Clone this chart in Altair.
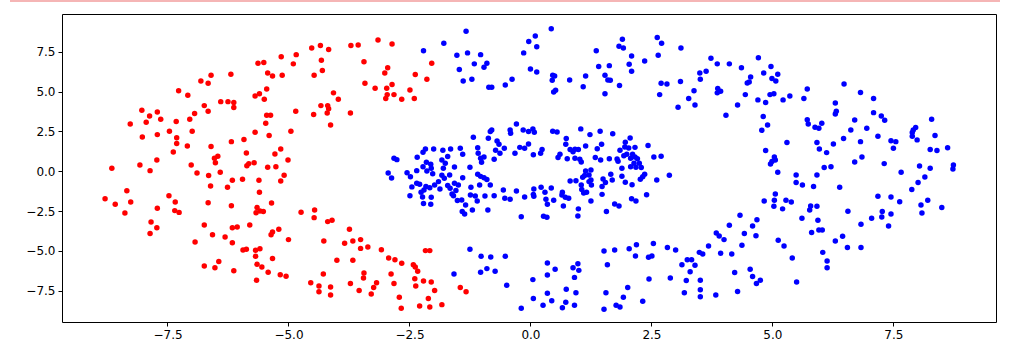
import altair as alt
import pandas as pd

# ---- red points (outer ring, left part) ----
red_x = [
    -8.03, -7.87, -7.71, -7.27, -7.08, -6.94, -6.81, -6.66, -6.60, -6.74, -6.66, -6.40, -6.25, -6.13, -6.13, -6.19,
    -5.69, -5.60, -5.45, -5.50, -5.63, -5.51, -5.43, -5.33, -5.15, -5.13, -4.90, -4.84, -5.45, -5.37, -4.85,
    -4.52, -4.34, -4.17, -4.32, -4.30, -4.47, -3.71, -3.56, -3.15, -2.86, -3.44, -2.95, -3.01, -3.42, -3.21, -2.97,
    -2.86, -2.82, -2.96, -2.99, -2.66, -2.49, -2.40, -2.38, -2.14, -2.04, -4.07, -3.97, -4.33, -4.19, -4.17, -4.20,
    -4.48, -3.72,
    -8.27, -7.94, -7.64, -7.32, -7.04, -5.47, -5.69, -5.40, -4.95, -8.02, -7.71, -7.46, -7.31, -7.31, -6.99, -7.09,
    -7.38, -6.60, -6.18, -5.92, -5.87, -6.53, -6.46, -6.51, -7.01, -6.89, -6.65, -6.41, -6.61, -6.26, -6.16, -5.95,
    -5.86, -5.82, -5.71, -5.61, -5.60, -5.43, -5.26, -5.28, -5.16, -5.01, -5.09, -5.16, -7.72, -8.07, -7.86, -8.65,
    -8.34, -8.26, -8.79, -8.58, -8.38, -7.47, -7.34, -7.71, -7.35, -7.26, -6.66, -6.18, -5.65, -5.67, -5.59, -5.52,
    -5.35,
    -4.13, -4.74, -4.46, -4.47,
    -7.84, -7.72, -7.86, -6.74, -6.57, -6.16, -6.06, -5.80, -5.20, -5.33, -5.36, -6.93, -6.31, -6.16, -5.00, -5.94,
    -5.87, -5.68, -5.59, -5.68, -6.44, -6.74, -6.52, -6.13, -5.65, -5.55, -5.33, -5.42, -5.17, -5.05, -5.66,
    -4.19, -4.10, -3.74, -4.27, -3.84, -3.67, -3.51, -3.51, -3.36, -3.08, -4.00, -3.67, -4.28, -4.54, -4.37, -4.37,
    -4.13, -4.13, -3.72, -3.54, -3.44, -3.45, -3.18, -3.24, -3.29, -2.93, -2.80, -2.66, -2.42, -2.38, -2.33, -2.88,
    -2.82, -2.71, -2.67, -2.39, -2.37, -2.21, -2.05, -1.98, -2.11, -2.29, -2.08, -1.83, -2.17, -2.08, -1.45, -1.33,
]
red_y = [
    3.83, 3.47, 3.72, 5.06, 4.77, 3.62, 5.67, 5.52, 6.03, 4.12, 3.77, 4.37, 4.37, 4.31, 4.00, 6.09,
    4.73, 4.87, 5.17, 4.52, 6.78, 6.82, 6.17, 5.98, 7.18, 6.03, 6.74, 7.32, 3.51, 3.51, 3.77,
    7.74, 7.89, 7.64, 6.97, 6.32, 6.03, 7.89, 7.93, 8.24, 7.99, 6.88, 6.49, 6.17, 5.52, 5.21, 5.21,
    5.44, 4.81, 4.81, 4.56, 4.52, 5.10, 4.56, 6.07, 5.77, 6.78, 4.92, 4.52, 4.12, 4.12, 3.93, 3.66,
    3.56, 3.66,
    2.97, 3.07, 3.26, 3.12, 3.26, 3.01, 2.45, 2.24, 2.51, 2.15, 2.30, 2.51, 2.11, 1.74, 2.51, 1.59,
    1.21, 1.55, 1.86, 1.99, 1.15, 0.81, 0.94, 0.54, 0.40, -0.11, -0.27, -0.06, -0.92, -1.01, -0.57, -0.50,
    0.35, 0.48, 0.54, -0.57, -1.32, 0.25, 0.29, 1.09, 1.40, 0.71, -0.25, -0.61, 0.71, 0.40, 0.04, 0.19,
    -1.22, -1.93, -1.72, -2.07, -2.62, -1.53, -1.93, -2.32, -2.47, -2.58, -1.97, -2.16, -2.28, -2.60, -2.49, -2.53,
    -1.99,
    2.91, -2.57, -2.43, -2.91,
    -3.18, -3.54, -3.91, -3.37, -3.98, -3.54, -3.50, -3.37, -3.64, -3.81, -3.98, -4.44, -4.12, -4.48, -4.29, -4.94,
    -4.90, -4.96, -4.86, -5.34, -5.67, -5.94, -6.05, -6.24, -5.84, -6.01, -5.48, -6.34, -6.49, -6.59, -6.84,
    -3.16, -3.08, -3.64, -4.37, -4.52, -4.37, -4.29, -4.84, -4.75, -4.92, -5.59, -5.59, -6.45, -6.99, -7.20, -7.56,
    -7.26, -7.76, -7.05, -7.49, -6.38, -6.70, -6.99, -7.30, -7.70, -5.44, -5.55, -5.78, -5.86, -6.01, -6.28, -6.45,
    -7.05, -7.91, -8.60, -6.74, -7.20, -6.89, -6.95, -7.49, -7.99, -8.45, -8.52, -8.37, -4.98, -4.98, -7.30, -7.56,
]

# ---- blue points (rest of outer ring + inner ring) ----
blue_x = [
    # outer ring, top
    -2.21, -1.79, -1.33, -1.52, -1.30, -1.03, -1.16, -0.90, -0.96, -1.47, -1.39, -1.21, -0.86, -0.80, -0.52, -0.38,
    -0.035, -0.14, 0.00,
    0.10, 0.13, 0.43, 0.13, 0.46, 0.50, 0.45, 0.48, 0.52, 0.81, 1.09, 1.14, 1.36, 1.41, 1.63, 1.54,
    1.60, 1.65, 1.54, 1.84, 1.83, 1.92, 1.90, 2.09, 2.04, 2.09, 2.36, 2.62, 2.71, 2.64, 3.11, 2.70,
    2.82, 2.67, 3.10, 3.05, 3.27, 3.40, 3.38, 3.51, 3.50, 3.63, 3.73, 3.86, 4.11, 4.36, 4.71, 4.55,
    4.52, 4.48, 3.87, 3.93, 3.86, 4.04, 4.28, 4.44, 4.70, 4.86, 4.82,
    4.97, 5.11, 4.99, 5.07, 4.95, 5.03, 5.22, 5.36, 5.65, 5.72, 6.30, 6.32, 6.30, 6.48, 6.82, 7.09,
    7.09, 7.25,
    # inner ring, left half
    -0.29, -0.42, -0.41, -0.80, -0.83, -0.15, -0.04, -1.18, -0.87, -0.69, -0.65, -0.72, -0.63, -0.54, -0.75, -0.32,
    -0.12, -0.22, -0.04, -1.09, -1.08, -1.03, -0.96, -1.01, -1.25, -1.45, -1.40, -1.65, -1.81, -2.00, -2.17, -2.22,
    -2.34, -2.82, -2.76, -2.15, -2.06, -2.22, -2.05, -2.14, -2.02, -2.35, -2.55, -2.48, -2.94, -2.87, -1.83, -1.71,
    -1.76, -1.80, -1.67, -1.57, -1.83, -1.78, -1.40, -1.09, -1.03, -0.96, -0.90, -0.83, -1.05, -1.23, -1.24, -1.14,
    -1.10, -0.94, -0.75, -0.56, -0.29, -0.53, -0.42, -0.12, -1.57, -1.49, -1.54, -1.62, -1.71, -1.66, -1.90, -1.98,
    -2.08, -2.16, -1.87, -2.20, -2.29, -2.45, -2.35, -2.26, -2.23, -2.05, -2.49, -2.21, -2.06, -1.59, -1.51, -1.42,
    -1.34, -1.20, -1.41, -1.36, -0.88, -0.19,
    # inner ring, right half
    0.05, 0.08, 0.46, 0.55, 1.04, 1.23, 1.44, 1.70, 0.74, 0.73, 1.14, 1.38, 1.47, 1.96, 2.06, 1.95,
    2.03, 2.16, 1.85, 2.43, 0.24, 0.21, 0.06, 0.82, 0.92, 0.99, 0.88, 0.61, 0.57, 0.76, 0.92, 1.02,
    1.05, 1.34, 1.45, 1.63, 1.79, 1.81, 1.93, 1.99, 2.11, 2.07, 2.16, 2.21, 2.14, 2.25, 2.29, 2.18,
    2.07, 2.55, 2.70, 2.87, 2.61, 1.89, 1.89, 1.14, 1.25, 1.12, 1.21, 1.08, 1.25, 1.21, 1.26, 0.82,
    0.94, 1.05, 1.06, 1.10, 1.16, 1.50, 1.55, 1.66, 1.69, 1.48, 1.48, 1.96, 2.10, 2.27, 2.32, 2.36,
    2.40, 2.09, 2.18, 1.25, 0.07, 0.22, 0.43, 0.06, 0.30, 0.07, 0.32, 0.48, 0.66, 0.72, 0.79, 0.65,
    0.35, 0.68, 0.27, 0.34, 0.99, 0.98, 1.57, 1.74, 1.83,
    # outer ring, right side
    4.81, 4.90, 4.78, 4.86, 4.83, 4.33,
    5.72, 5.74, 6.02, 5.88, 5.96, 6.70, 7.32, 8.29, 6.62, 6.95, 6.47, 6.82, 7.18, 5.92, 5.97, 6.12,
    6.26, 5.30, 7.45, 7.55, 7.50, 7.91, 7.96, 7.89, 7.89, 7.99, 8.36, 8.26, 8.40, 8.62, 5.04, 5.06,
    4.99, 4.96, 5.11, 5.49, 5.49, 5.62, 5.85, 5.92, 6.07, 6.21, 6.39, 6.70, 6.85, 7.31, 7.66, 8.04,
    8.26, 8.15, 8.01, 7.88, 8.74, 8.73, 8.50, 8.21, 8.07, 8.09, 7.63, 7.45, 7.18, 7.27, 7.45, 7.26,
    7.05, 6.56, 5.79, 5.92, 5.77, 5.61, 5.21, 5.28, 5.39, 5.06, 5.04, 5.03,
    # outer ring, bottom
    -1.58, -1.25, -1.02, -0.82, -0.52, -0.90, -1.03, -0.73, -0.49, -0.19,
    0.05, 0.06, 0.35, 0.35, 0.51, 0.88, 0.98, 1.00, 0.91, 0.74, 0.35, 0.44, 0.26, 0.66, 0.73, 0.91,
    0.94, 1.52, 1.74, 1.59, 2.04, 2.19, 2.17, 2.44, 2.51, 2.54, 2.83, 3.00, 2.45, 2.89, 1.56, 1.52,
    1.77, 1.85, 1.92, 2.01, 2.32, 3.13, 3.24, 3.33, 3.40, 3.30, 3.22, 3.18, 3.51, 3.51, 3.51, 3.83,
    3.49, 3.56, 3.68, 3.84, 3.90, 4.00, 4.11, 3.93, 4.16, 4.37, 4.42, 4.59, 4.68, 4.66, 4.22, 4.28,
    4.54, 4.59, 4.75, 4.67,
    5.94, 6.83, 7.40, 5.81, 5.96, 6.03, 5.12, 5.24, 5.41, 5.50, 6.04, 6.13, 6.13, 6.30, 6.45, 6.55,
    6.83,
]
blue_y = [
    7.57, 8.03, 8.79, 7.28, 7.43, 7.32, 6.74, 6.78, 6.53, 6.38, 5.67, 5.77, 5.27, 5.27, 5.42, 5.77,
    8.14, 7.43, 6.42,
    8.49, 7.82, 8.95, 6.23, 6.03, 5.98, 5.71, 4.98, 5.08, 5.73, 5.31, 5.98, 7.57, 6.57, 6.63, 6.03,
    5.73, 5.71, 4.87, 5.38, 7.85, 7.74, 8.28, 7.24, 6.72, 6.28, 6.92, 8.39, 8.03, 7.28, 7.74, 5.52,
    5.48, 4.81, 5.63, 4.02, 4.56, 4.16, 5.06, 5.77, 6.17, 6.28, 7.09, 6.74, 6.74, 6.49, 7.13, 5.92,
    5.61, 5.54, 5.19, 5.02, 4.92, 3.51, 4.16, 4.81, 4.48, 4.31, 6.17,
    6.57, 6.09, 5.82, 5.67, 4.81, 4.87, 4.48, 4.73, 4.56, 5.17, 4.29, 3.77, 3.60, 5.48, 4.94, 4.56,
    3.68, 3.47,
    2.97, 2.59, 2.38, 2.59, 2.49, 2.59, 2.49, 2.13, 2.07, 1.90, 1.69, 1.32, 1.13, 1.44, 0.75, 1.13,
    1.44, 1.50, 1.71, 1.48, 1.13, 0.81, 0.90, 0.56, 0.25, 1.44, 1.07, 1.40, 1.32, 1.40, 1.40, 1.19,
    0.88, 0.81, 0.73, 0.56, 0.44, 0.29, 0.19, 0.02, -0.15, 0.04, -0.09, -0.34, -0.11, -0.42, 0.71, 0.92,
    0.50, 0.19, -0.23, 0.27, -0.25, -0.44, -0.40, -0.19, -0.32, -0.40, -0.52, -0.86, -0.86, -1.01, -1.49, -1.55,
    -1.86, -1.55, -1.53, -1.17, -1.24, -1.70, -1.76, -1.61, -0.75, -0.86, -1.21, -1.42, -0.90, -1.07, -0.65, -0.86,
    -1.03, -0.96, -1.11, -1.17, -0.82, -0.98, -0.75, -1.32, -1.61, -1.63, -1.53, -2.03, -2.07, -1.53, -1.84, -1.80,
    -2.11, -2.43, -2.53, -2.68, -2.43, -2.85,
    2.66, 2.45, 2.51, 2.47, 2.66, 2.30, 2.51, 2.36, 2.05, 1.69, 1.59, 1.42, 1.69, 1.82, 2.09, 1.53,
    1.46, 1.50, 1.32, 1.61, 1.36, 1.13, 1.04, 1.36, 1.38, 1.36, 1.23, 1.07, 0.86, 0.79, 0.81, 0.75,
    0.58, 0.86, 0.71, 0.79, 0.77, 0.63, 0.98, 1.07, 1.07, 0.81, 0.90, 0.79, 0.50, 0.50, 0.23, 0.25,
    0.29, 0.90, 0.94, -0.25, -0.55, 0.19, -0.31, 0.02, 0.08, -0.27, -0.23, -0.38, -0.55, -0.65, -0.86, -0.61,
    -0.59, -0.86, -1.15, -1.36, -1.32, -0.48, -0.71, -0.19, -0.55, -0.96, -1.45, -0.69, -0.84, -0.50, -0.34, -0.19,
    -1.47, -1.72, -1.86, -1.86, -1.11, -1.01, -1.05, -1.45, -1.32, -1.57, -1.76, -1.82, -1.32, -1.63, -1.70, -1.49,
    -2.07, -2.18, -2.83, -2.89, -2.36, -2.81, -2.53, -2.05, -2.18,
    3.43, 2.91, 2.57, 1.30, -1.86, -2.76,
    3.24, 2.97, 3.01, 2.76, 2.70, 3.22, 3.20, 3.26, 2.59, 2.70, 2.05, 1.86, 2.20, 1.80, 1.40, 1.17,
    1.71, 1.80, 1.92, 1.86, 1.44, 2.59, 2.74, 2.43, 2.20, 1.97, 2.24, 1.36, 1.30, 1.48, 0.90, 0.71,
    0.61, 0.46, -0.06, -0.23, -0.71, -0.86, -0.96, -0.23, 0.23, 0.29, -1.01, 0.58, 0.90, 0.48, -0.06, 0.33,
    0.19, -0.36, -0.71, -1.15, 0.40, 0.14, -2.28, -1.82, -2.11, -2.62, -1.91, -1.61, -1.57, -2.53, -2.68, -2.87,
    -2.95, -2.51, -2.18, -2.20, -2.43, -2.95, -2.36, -1.82, -1.93, -1.42, -1.82, -2.20,
    -6.45, -4.90, -5.34, -5.38, -5.34, -6.11, -6.34, -6.28, -7.16, -8.60,
    -6.80, -7.99, -5.76, -6.51, -6.15, -6.05, -5.80, -6.22, -6.66, -7.41, -7.66, -8.12, -8.41, -8.56, -8.22, -8.41,
    -7.62, -5.00, -4.94, -5.86, -4.86, -4.61, -5.32, -5.40, -5.32, -4.54, -4.79, -4.94, -6.76, -6.70, -7.62, -8.66,
    -8.41, -8.52, -7.91, -7.30, -8.16, -5.86, -5.55, -5.55, -5.90, -6.30, -6.86, -7.62, -6.84, -7.43, -7.87, -7.76,
    -5.09, -5.19, -4.69, -3.87, -4.06, -4.29, -3.39, -5.15, -5.19, -4.65, -3.91, -3.43, -3.04, -4.04, -6.36, -7.55,
    -6.15, -6.61, -6.84, -7.05,
    -3.08, -3.33, -3.43, -3.85, -3.69, -3.69, -4.33, -4.69, -5.44, -6.95, -5.09, -5.63, -6.05, -4.38, -4.08, -4.79,
    -4.79,
]

x_ticks = [-7.5, -5.0, -2.5, 0.0, 2.5, 5.0, 7.5]
y_ticks = [-7.5, -5.0, -2.5, 0.0, 2.5, 5.0, 7.5]

df = pd.concat([
    pd.DataFrame({"x": red_x, "y": red_y, "c": "red"}),
    pd.DataFrame({"x": blue_x, "y": blue_y, "c": "blue"}),
], ignore_index=True)

xs = alt.Scale(domain=[-9.68, 9.62], nice=False, zero=False)
ys = alt.Scale(domain=[-9.46, 9.87], nice=False, zero=False)

points = alt.Chart(df).mark_circle(size=30, opacity=1).encode(
    x=alt.X("x:Q", scale=xs, title=None,
            axis=alt.Axis(values=x_ticks, format=".1f", grid=False)),
    y=alt.Y("y:Q", scale=ys, title=None,
            axis=alt.Axis(values=y_ticks, format=".1f", grid=False)),
    color=alt.Color("c:N", scale=alt.Scale(domain=["red", "blue"], range=["#ff0000", "#0000ff"]), legend=None),
)

# thin decorative strip along the top edge of the page
top_strip = alt.Chart(pd.DataFrame({"a": [0]})).mark_rule(
    color="#f5b5b5", strokeWidth=2
).encode(x=alt.value(-52), x2=alt.value(938), y=alt.value(-13))

chart = alt.layer(points, top_strip).properties(
    width=934, height=308,
    autosize=alt.AutoSizeParams(type="none"),
    padding={"left": 62, "top": 14, "right": 15, "bottom": 32},
).configure_view(
    stroke="#000000", strokeWidth=1
).configure_axis(
    domain=False, labelFont="DejaVu Sans", labelFontSize=12, labelColor="#000000",
    tickColor="#000000", tickSize=4, labelPadding=3,
)

chart.save("out.html", embed_options={"renderer": "svg", "actions": False})
